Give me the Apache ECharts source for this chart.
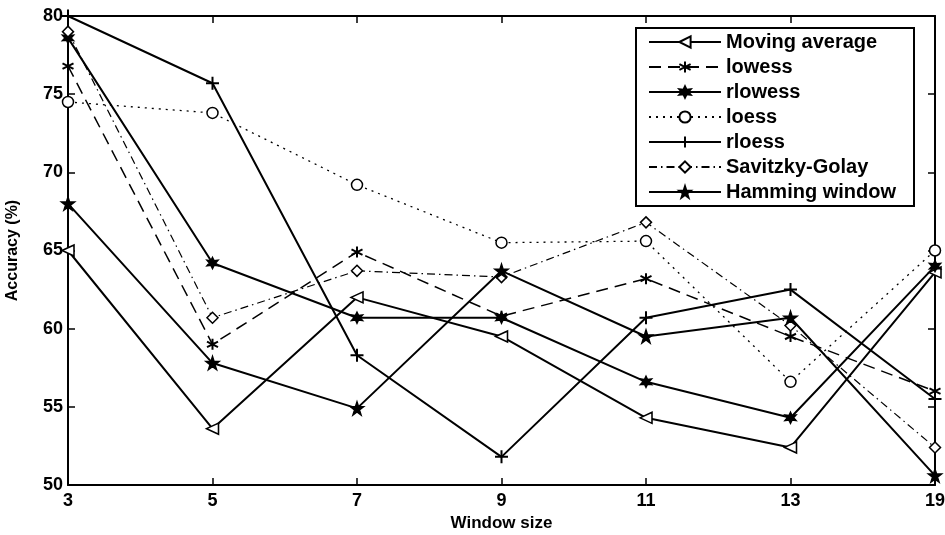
<!DOCTYPE html>
<html>
<head>
<meta charset="utf-8">
<script src="https://cdn.jsdelivr.net/npm/echarts@6/dist/echarts.min.js"></script>
<style>
html,body{margin:0;padding:0;background:#fff;}
#chart{width:945px;height:535px;}
</style>
</head>
<body>
<div id="chart"></div>
<script>
const categories = ['3', '5', '7', '9', '11', '13', '19'];
const yTicks = [50, 55, 60, 65, 70, 75, 80];
const seriesNames = ['Moving average', 'lowess', 'rlowess', 'loess', 'rloess', 'Savitzky-Golay', 'Hamming window'];
const movingAverage = [65.0, 53.6, 62.0, 59.5, 54.3, 52.4, 63.6];
const lowess = [76.8, 59.0, 64.9, 60.8, 63.2, 59.5, 56.0];
const rlowess = [78.6, 64.2, 60.7, 60.7, 56.6, 54.3, 64.0];
const loess = [74.5, 73.8, 69.2, 65.5, 65.6, 56.6, 65.0];
const rloess = [80.0, 75.7, 58.3, 51.8, 60.7, 62.5, 55.5];
const savitzkyGolay = [79.0, 60.7, 63.7, 63.3, 66.8, 60.2, 52.4];
const hammingWindow = [68.0, 57.8, 54.9, 63.7, 59.5, 60.7, 50.6];

const FONT = '"Liberation Sans", Arial, sans-serif';
const SYM = {
  triLeft: 'path://M0,5L10,0L10,10Z',
  asterisk: 'path://M5,0L5,10M0.7,2.5L9.3,7.5M0.7,7.5L9.3,2.5',
  hexStar: 'path://M5,0L6.2,2.9L9.3,2.5L7.4,5L9.3,7.5L6.2,7.1L5,10L3.8,7.1L0.7,7.5L2.6,5L0.7,2.5L3.8,2.9Z',
  plus: 'path://M5,0L5,10M0,5L10,5',
  star: 'path://M5,0L6.2,3.6L10,3.6L6.9,5.9L8.1,9.5L5,7.3L1.9,9.5L3.1,5.9L0,3.6L3.8,3.6Z'
};

function mk(name, data, opts) {
  return {
    name: name,
    type: 'line',
    data: data,
    symbol: opts.symbol,
    symbolSize: opts.size || 10,
    showAllSymbol: true,
    clip: false,
    z: opts.z || 2,
    lineStyle: { color: '#000', width: opts.width || 1.8, type: opts.dash || 'solid' },
    itemStyle: { color: opts.fill || '#000', borderColor: '#000', borderWidth: opts.bw || 1.5 },
    emphasis: { disabled: true }
  };
}

const series = [
  mk(seriesNames[0], movingAverage, { symbol: SYM.triLeft, fill: '#fff', size: [12, 11], width: 2 }),
  mk(seriesNames[1], lowess, { symbol: SYM.asterisk, size: 11, width: 1.5, dash: [12, 7], bw: 2 }),
  mk(seriesNames[2], rlowess, { symbol: SYM.hexStar, size: 11, width: 2 }),
  mk(seriesNames[3], loess, { symbol: 'circle', fill: '#fff', size: 11, width: 1.3, dash: [2, 5] }),
  mk(seriesNames[4], rloess, { symbol: SYM.plus, size: 13, width: 2, bw: 2 }),
  mk(seriesNames[5], savitzkyGolay, { symbol: 'diamond', fill: '#fff', size: 11, width: 1.2, dash: [8, 4, 1.5, 4] }),
  mk(seriesNames[6], hammingWindow, { symbol: SYM.star, size: 13, width: 2 })
];

const axisBase = {
  axisLine: { show: true, onZero: false, lineStyle: { color: '#000', width: 2 } },
  axisTick: { show: true, inside: true, length: 7, lineStyle: { color: '#000', width: 1.5 } },
  splitLine: { show: false }
};

const chart = echarts.init(document.getElementById('chart'), null, { renderer: 'canvas' });
chart.setOption({
  animation: false,
  backgroundColor: '#fff',
  grid: { left: 68, right: 10, top: 16, bottom: 50, show: false, containLabel: false, outerBoundsMode: 'none' },
  legend: {
    data: seriesNames,
    orient: 'vertical',
    left: 636,
    top: 28,
    itemWidth: 72,
    itemHeight: 14,
    itemGap: 5,
    padding: [4, 18, 4, 12],
    borderColor: '#000',
    borderWidth: 2,
    backgroundColor: '#fff',
    textStyle: { fontFamily: FONT, fontSize: 20, fontWeight: 'bold', color: '#000' },
    selectedMode: false
  },
  xAxis: [
    Object.assign({}, axisBase, {
      type: 'category', data: categories, boundaryGap: false, position: 'bottom',
      axisTick: Object.assign({}, axisBase.axisTick, { alignWithLabel: true }),
      axisLabel: { color: '#000', fontFamily: FONT, fontSize: 18, fontWeight: 'bold', margin: 7 },
      name: 'Window size', nameLocation: 'middle', nameGap: 30,
      nameTextStyle: { color: '#000', fontFamily: FONT, fontSize: 17, fontWeight: 'bold' }
    }),
    Object.assign({}, axisBase, {
      type: 'category', data: categories, boundaryGap: false, position: 'top',
      axisLabel: { show: false }
    })
  ],
  yAxis: [
    Object.assign({}, axisBase, {
      type: 'value', min: 50, max: 80, interval: 5, position: 'left',
      axisLabel: { color: '#000', fontFamily: FONT, fontSize: 18, fontWeight: 'bold', margin: 5,
        formatter: function (v) { return yTicks.indexOf(v) >= 0 ? String(v) : ''; } },
      name: 'Accuracy (%)', nameLocation: 'middle', nameGap: 47, nameRotate: 90,
      nameTextStyle: { color: '#000', fontFamily: FONT, fontSize: 16, fontWeight: 'bold' }
    }),
    Object.assign({}, axisBase, {
      type: 'value', min: 50, max: 80, interval: 5, position: 'right',
      axisLabel: { show: false }
    })
  ],
  series: series
});
</script>
</body>
</html>
